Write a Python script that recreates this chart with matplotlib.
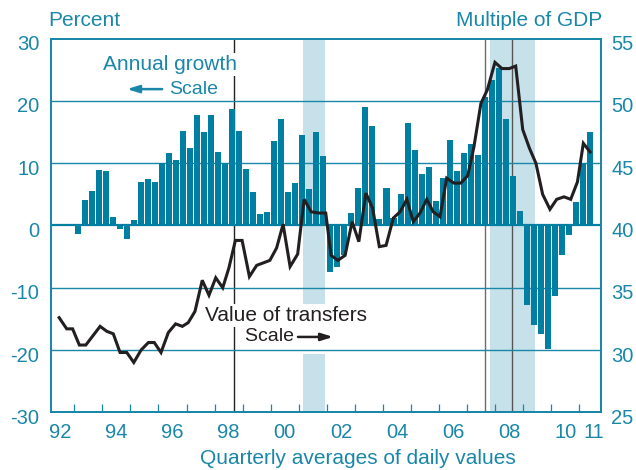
import matplotlib
matplotlib.use("Agg")
import matplotlib.pyplot as plt
import matplotlib.transforms as mtransforms
import numpy as np

plt.rcParams["font.family"] = ["Liberation Sans", "DejaVu Sans"]
plt.rcParams["axes.unicode_minus"] = False

TEAL = "#1a87a8"
BAR = "#007fa3"
SHADE = "#c7e1eb"
INK = "#231f20"

# Annual growth, percent (left scale), quarterly 1993Q1 - 2011Q2
growth = [
    -1.4, 4.1, 5.6, 8.9, 8.8, 1.4, -0.6, -2.1, 0.9, 7.0, 7.5, 7.0,
    10.0, 11.7, 10.5, 15.2, 12.5, 17.8, 15.0, 17.8, 11.8, 10.0, 18.7, 15.2,
    9.1, 5.4, 1.9, 2.2, 13.6, 17.1, 5.4, 6.9, 14.5, 5.9, 15.0, 11.2,
    -7.4, -6.7, -4.8, 2.0, 6.0, 19.0, 16.0, 1.1, 6.0, 1.2, 5.1, 16.5,
    12.1, 8.3, 9.4, 4.0, 7.6, 13.7, 8.8, 11.6, 13.1, 11.3, 20.6, 23.4,
    25.3, 17.1, 7.9, 2.3, -12.7, -16.0, -17.5, -19.8, -11.3, -4.7, -1.5, 3.8,
    10.0, 15.0,
]
growth_dates = 1993.125 + 0.25 * np.arange(len(growth))

# Value of transfers, multiple of GDP (right scale)
transfer_dates = [
    1992.46, 1992.73, 1992.94, 1993.18, 1993.41, 1993.92, 1994.16, 1994.39,
    1994.63, 1994.87, 1995.12, 1995.38, 1995.64, 1995.85, 1996.09, 1996.35,
    1996.61, 1996.85, 1997.06, 1997.30, 1997.56, 1997.80, 1998.04, 1998.29,
    1998.51, 1998.74, 1998.98, 1999.24, 1999.50, 1999.74, 1999.97, 2000.21,
    2000.44, 2000.69, 2000.96, 2001.19, 2001.44, 2001.71, 2001.96, 2002.15,
    2002.39, 2002.65, 2002.90, 2003.14, 2003.39, 2003.63, 2003.87, 2004.11,
    2004.37, 2004.61, 2004.85, 2005.08, 2005.32, 2005.56, 2005.79, 2006.03,
    2006.27, 2006.53, 2006.77, 2007.02, 2007.24, 2007.49, 2007.72, 2007.99,
    2008.24, 2008.50, 2008.73, 2008.98, 2009.22, 2009.45, 2009.69, 2009.95,
    2010.19, 2010.45, 2010.69, 2010.93, 2011.14, 2011.38,
]
transfers = [
    32.6, 31.7, 31.7, 30.4, 30.4, 31.9, 31.5, 31.3,
    29.8, 29.8, 29.0, 30.0, 30.6, 30.6, 29.8, 31.4,
    32.1, 31.9, 32.2, 33.1, 35.6, 34.4, 35.8, 35.0,
    36.6, 38.8, 38.8, 35.9, 36.8, 37.0, 37.2, 38.2,
    40.1, 36.7, 37.7, 42.1, 41.1, 41.0, 41.0, 37.6,
    37.2, 37.6, 40.3, 38.7, 42.6, 41.4, 38.3, 38.4,
    40.6, 41.1, 42.1, 40.3, 41.0, 42.1, 41.1, 40.7,
    43.8, 43.4, 43.4, 44.0, 46.3, 49.8, 50.9, 53.1,
    52.6, 52.6, 52.8, 47.7, 46.2, 45.0, 42.5, 41.3,
    42.1, 42.3, 42.1, 43.5, 46.6, 45.9,
]

recessions = [(2001.16, 2001.93), (2007.83, 2009.40)]
event_lines = [1998.70, 2007.64, 2008.61]
event_colors = ["#222222", "#6b6b6b", "#555555"]

year_ticks = np.arange(1993, 2012)
label_years = [1992, 1994, 1996, 1998, 2000, 2002, 2004, 2006, 2008, 2010, 2011]
label_text = ["92", "94", "96", "98", "00", "02", "04", "06", "08", "10", "11"]

fig = plt.figure(figsize=(6.36, 4.70), dpi=100)
ax = fig.add_axes([0.0802, 0.1228, 0.8648, 0.7949])
ax2 = ax.twinx()

ax.set_xlim(1992.17, 2011.77)
ax.set_ylim(-30, 30)
ax2.set_ylim(25, 55)

for lo, hi in recessions:
    ax.axvspan(lo, hi, color=SHADE, lw=0, zorder=0.5)
for xv, c in zip(event_lines, event_colors):
    ax.axvline(xv, color=c, lw=1.0, zorder=1.5)

for yv in [-20, -10, 10, 20]:
    ax.axhline(yv, color=TEAL, lw=1.0, zorder=3)
ax.axhline(0, color=BAR, lw=1.6, zorder=3.6)

ax.bar(growth_dates, growth, width=0.215, color=BAR, lw=0, zorder=3.5)

ax2.plot(transfer_dates, transfers, color=INK, lw=2.2, zorder=5,
         solid_joinstyle="miter")
ax2.set_zorder(ax.get_zorder() + 1)
ax2.patch.set_visible(False)

# ticks
ax.set_xticks(year_ticks)
ax.set_xticklabels([])
ax.set_xticks([y + 0.5 for y in label_years], minor=True)
ax.set_xticklabels(label_text, minor=True)
ax.tick_params(axis="x", which="major", direction="in", length=5.8, width=0.9,
               color=TEAL)
ax.tick_params(axis="x", which="minor", length=0, pad=7.5, labelsize=14.5,
               labelcolor=TEAL)
ax.set_yticks(np.arange(-30, 31, 10))
ax.tick_params(axis="y", length=0, pad=8.4, labelsize=14.5, labelcolor=TEAL)
ax2.set_yticks(np.arange(25, 56, 5))
ax2.tick_params(axis="y", length=0, pad=7.2, labelsize=14.5, labelcolor=TEAL)

off = mtransforms.ScaledTranslation(0, -4 / 100, fig.dpi_scale_trans)
for lab in ax.get_yticklabels() + ax2.get_yticklabels():
    lab.set_transform(lab.get_transform() + off)

for a in (ax, ax2):
    for sp in a.spines.values():
        sp.set_color(TEAL)
        sp.set_linewidth(1.4)

# texts
fig.text(48 / 636, 1 - 20 / 470, "Percent", color=TEAL, fontsize=15,
         ha="left", va="center")
fig.text(602 / 636, 1 - 20 / 470, "Multiple of GDP", color=TEAL,
         fontsize=15, ha="right", va="center")
fig.text(358 / 636, 1 - 458 / 470, "Quarterly averages of daily values",
         color=TEAL, fontsize=15, ha="center", va="center")

box = dict(facecolor="white", edgecolor="none", pad=1.5)
ax.text(1996.41, 25.9, "Annual growth", color=TEAL, fontsize=15,
        ha="center", va="center", bbox=box, zorder=2.5)
ax.text(1996.38, 21.9, "Scale", color=TEAL, fontsize=14,
        ha="left", va="center", zorder=2.5)
ax.annotate("", xy=(1994.88, 21.9), xytext=(1996.13, 21.9),
            arrowprops=dict(arrowstyle="-|>,head_length=0.7,head_width=0.22",
                            color=TEAL, lw=1.8, shrinkA=0, shrinkB=0),
            zorder=2.5)

ax.text(2000.54, -14.4, "Value of transfers", color=INK, fontsize=15,
        ha="center", va="center", bbox=box, zorder=2.7)
# trailing spaces widen the white box under the arrow
ax.text(1999.09, -17.9, "Scale        ", color=INK, fontsize=14,
        ha="left", va="center",
        bbox=dict(facecolor="white", edgecolor="none", pad=6), zorder=2.5)
ax.annotate("", xy=(2002.22, -17.9), xytext=(2000.97, -17.9),
            arrowprops=dict(arrowstyle="-|>,head_length=0.7,head_width=0.22",
                            color=INK, lw=1.8, shrinkA=0, shrinkB=0),
            zorder=2.6)

fig.savefig("out.png", dpi=100)
